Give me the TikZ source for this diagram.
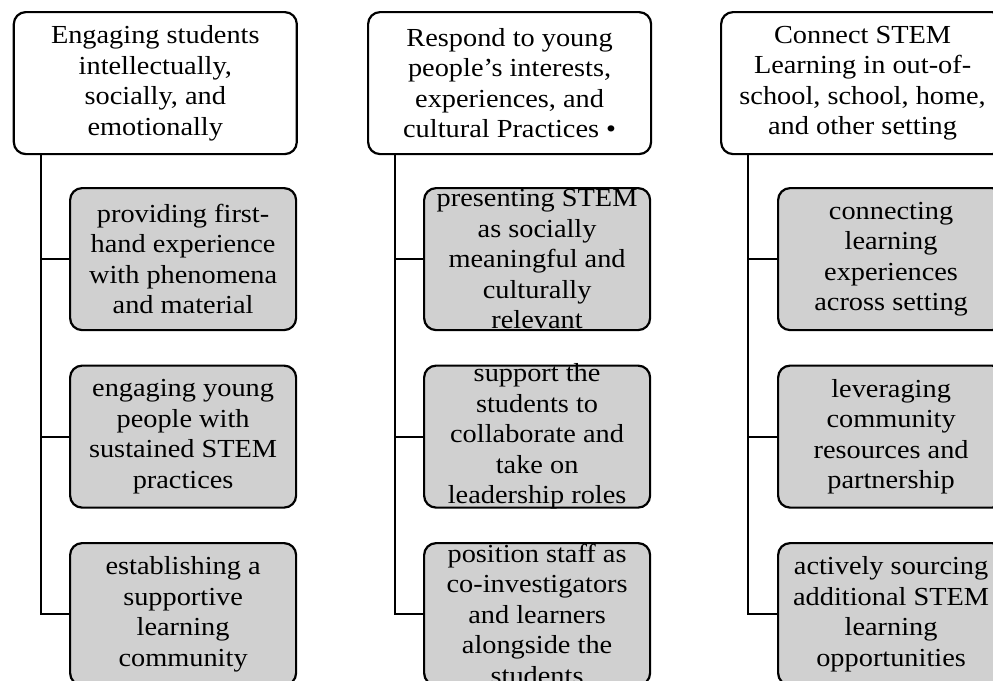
\documentclass[tikz,border=0pt]{standalone}
\usepackage{fontspec}
\setmainfont{Liberation Serif}[FakeStretch=1.09]
\definecolor{itemgray}{RGB}{208,208,208}
\begin{document}
\begin{tikzpicture}[x=1pt,y=-1pt,
  boxbase/.style={draw=black, line width=2.2pt, rounded corners=12pt,
    minimum width=283pt, minimum height=142pt, inner sep=0pt, anchor=north west},
  headbox/.style={boxbase, fill=white},
  itembox/.style={boxbase, fill=itemgray, minimum width=226pt},
  boxtext/.style={font=\fontsize{26}{30.5}\selectfont, align=center, inner sep=0pt},
  link/.style={draw=black, line width=2.2pt}]
\useasboundingbox (0,0) rectangle (993,680);
\clip (0,0) rectangle (993,680);

% column heads
\node[headbox] (h1) at (12.7,11) {};
\node[headbox] (h2) at (367,11) {};
\node[headbox] (h3) at (720,11) {};

% items under each head
\node[itembox] (c11) at (69,187) {};
\node[itembox] (c12) at (69,364.5) {};
\node[itembox] (c13) at (69,542) {};
\node[itembox] (c21) at (423,187) {};
\node[itembox] (c22) at (423,364.5) {};
\node[itembox] (c23) at (423,542) {};
\node[itembox] (c31) at (777,187) {};
\node[itembox] (c32) at (777,364.5) {};
\node[itembox] (c33) at (777,542) {};

% tree connectors
\foreach \h/\c in {h1/c1, h2/c2, h3/c3}{
  \coordinate (\h spine) at ([xshift=28pt]\h.south west);
  \foreach \k in {1,2,3}{
    \draw[link] (\h spine) |- (\c\k.west);
  }
}

% texts
\node[boxtext] (th1) at (h1.center) {Engaging students\\intellectually,\\socially, and\\emotionally};
\node[boxtext] (th2) at (h2.center) {Respond to young\\people’s interests,\\experiences, and\\cultural Practices •};
\node[boxtext] (th3) at (h3.center) {Connect STEM\\Learning in out-of-\\school, school, home,\\and other setting};

\node[boxtext] (t11) at (c11.center) {providing first-\\hand experience\\with phenomena\\and material};
\node[boxtext] (t12) at (c12.center) {engaging young\\people with\\sustained STEM\\practices};
\node[boxtext] (t13) at (c13.center) {establishing a\\supportive\\learning\\community};

\node[boxtext] (t21) at (c21.center) {presenting STEM\\as socially\\meaningful and\\culturally\\relevant};
\node[boxtext] (t22) at (c22.center) {support the\\students to\\collaborate and\\take on\\leadership roles};
\node[boxtext] (t23) at (c23.center) {position staff as\\co-investigators\\and learners\\alongside the\\students};

\node[boxtext] (t31) at (c31.center) {connecting\\learning\\experiences\\across setting};
\node[boxtext] (t32) at (c32.center) {leveraging\\community\\resources and\\partnership};
\node[boxtext] (t33) at (c33.center) {actively sourcing\\additional STEM\\learning\\opportunities};
\end{tikzpicture}
\end{document}
